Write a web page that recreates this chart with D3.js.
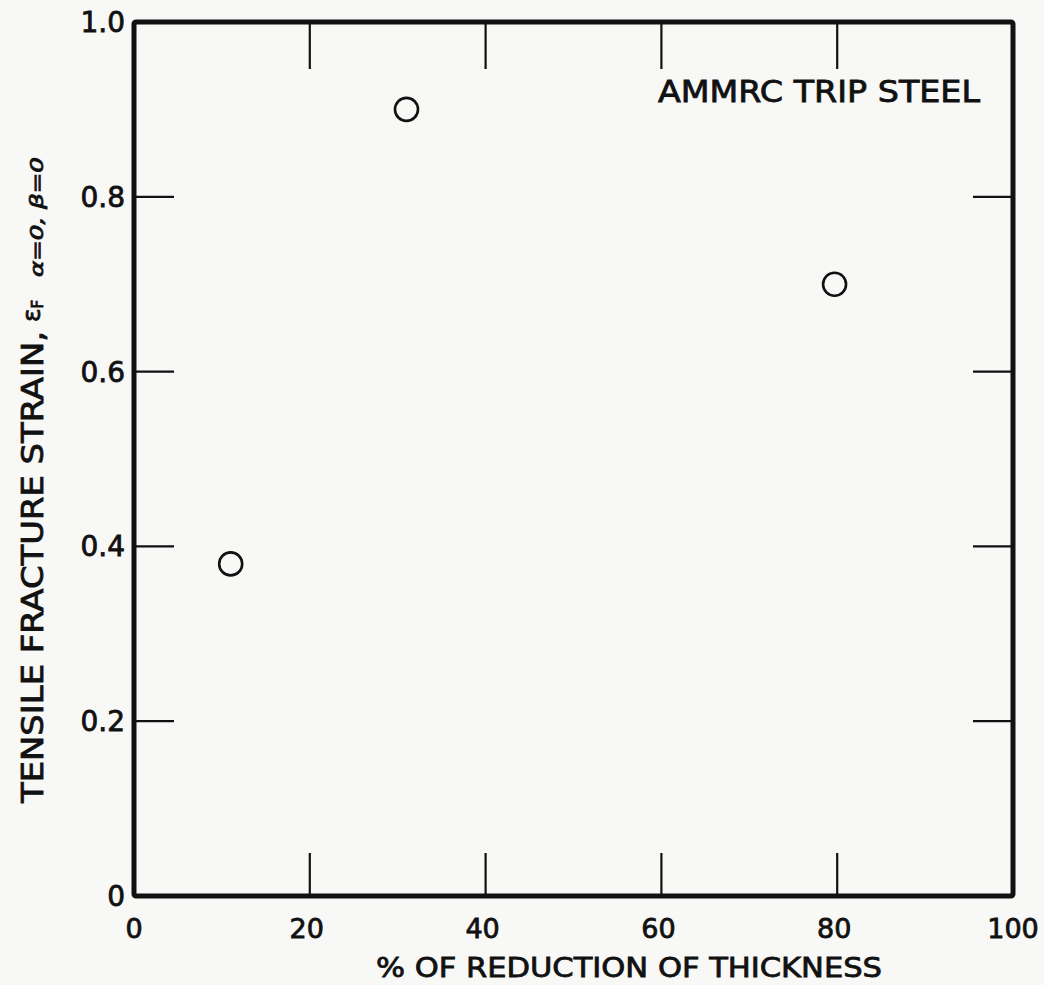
<!DOCTYPE html>
<html>
<head>
<meta charset="utf-8">
<script src="https://cdn.jsdelivr.net/npm/d3@7"></script>
<style>
  body { margin: 0; background: #f8f8f6; }
  svg { display: block; }
  text { font-family: "DejaVu Sans", sans-serif; fill: #111; stroke: #111; stroke-width: 0.8px; }
</style>
</head>
<body>
<div id="chart"></div>
<script>
// values
const reduction = [11, 31, 79.7];       // % of reduction of thickness
const fractureStrain = [0.38, 0.90, 0.70];
const xTicks = [0, 20, 40, 60, 80, 100];
const yTicks = [0, 0.2, 0.4, 0.6, 0.8, 1.0];
const yTickLabels = ["0", "0.2", "0.4", "0.6", "0.8", "1.0"];

let width = 1044;
let height = 985;
let margin = { top: 22, right: 31, bottom: 89, left: 134 };

let svg = d3.select("#chart")
    .append("svg")
    .attr("width", width)
    .attr("height", height);

let x = d3.scaleLinear().domain([0, 100]).range([margin.left, width - margin.right]);
let y = d3.scaleLinear().domain([0, 1]).range([height - margin.bottom, margin.top]);

let inner = xTicks.slice(1, -1);
let innerY = yTicks.slice(1, -1);

// inward ticks on all four sides
let ticks = svg.append("g").attr("stroke", "#111").attr("stroke-width", 2.2);
ticks.selectAll(".tb").data(inner).enter().append("line")
    .attr("x1", d => x(d)).attr("x2", d => x(d))
    .attr("y1", y(0)).attr("y2", y(0) - 43);
ticks.selectAll(".tt").data(inner).enter().append("line")
    .attr("x1", d => x(d)).attr("x2", d => x(d))
    .attr("y1", y(1)).attr("y2", y(1) + 47);
ticks.selectAll(".tl").data(innerY).enter().append("line")
    .attr("x1", x(0)).attr("x2", x(0) + 40)
    .attr("y1", d => y(d)).attr("y2", d => y(d));
ticks.selectAll(".tr").data(innerY).enter().append("line")
    .attr("x1", x(100)).attr("x2", x(100) - 40)
    .attr("y1", d => y(d)).attr("y2", d => y(d));

// frame
svg.append("rect")
    .attr("x", x(0)).attr("y", y(1))
    .attr("width", x(100) - x(0)).attr("height", y(0) - y(1))
    .attr("fill", "none")
    .attr("stroke", "#111")
    .attr("stroke-width", 5)
    .attr("rx", 2);

// tick labels
svg.append("g").selectAll("text")
    .data(xTicks).enter().append("text")
    .attr("x", d => x(d) - (d === 0 || d === 100 ? 0 : 3))
    .attr("y", y(0) + 42)
    .attr("text-anchor", "middle")
    .style("font-size", "27px")
    .text(d => d);

svg.append("g").selectAll("text")
    .data(yTicks).enter().append("text")
    .attr("x", x(0) - 9)
    .attr("y", d => y(d) + 10)
    .attr("text-anchor", "end")
    .style("font-size", "28px")
    .text((d, i) => yTickLabels[i]);

// axis titles
svg.append("text")
    .attr("x", 376)
    .attr("y", 977)
    .attr("textLength", 506)
    .attr("lengthAdjust", "spacingAndGlyphs")
    .style("font-size", "27px")
    .text("% OF REDUCTION OF THICKNESS");

let yt = svg.append("g").attr("transform", "translate(43,0) rotate(-90)");
yt.append("text")
    .attr("x", -803)
    .attr("y", 0)
    .attr("textLength", 472)
    .attr("lengthAdjust", "spacingAndGlyphs")
    .style("font-size", "30px")
    .text("TENSILE  FRACTURE  STRAIN,");
let eps = yt.append("text")
    .attr("x", -322)
    .attr("y", -3)
    .style("font-size", "25px");
eps.append("tspan").text("\u03B5");
eps.append("tspan").attr("dy", 3).style("font-size", "15px").text("F");
yt.append("text")
    .attr("x", -277)
    .attr("y", 0)
    .attr("textLength", 120)
    .attr("lengthAdjust", "spacingAndGlyphs")
    .style("font-size", "17px")
    .style("font-style", "italic")
    .text("\u03B1=0, \u03B2=0");

// annotation
svg.append("text")
    .attr("x", 658)
    .attr("y", 102)
    .attr("textLength", 322)
    .attr("lengthAdjust", "spacingAndGlyphs")
    .style("font-size", "30px")
    .text("AMMRC  TRIP STEEL");

// data points
svg.append("g").selectAll("circle")
    .data(reduction).enter().append("circle")
    .attr("cx", d => x(d))
    .attr("cy", (d, i) => y(fractureStrain[i]))
    .attr("r", 11.5)
    .attr("fill", "none")
    .attr("stroke", "#111")
    .attr("stroke-width", 2.6);
</script>
</body>
</html>
